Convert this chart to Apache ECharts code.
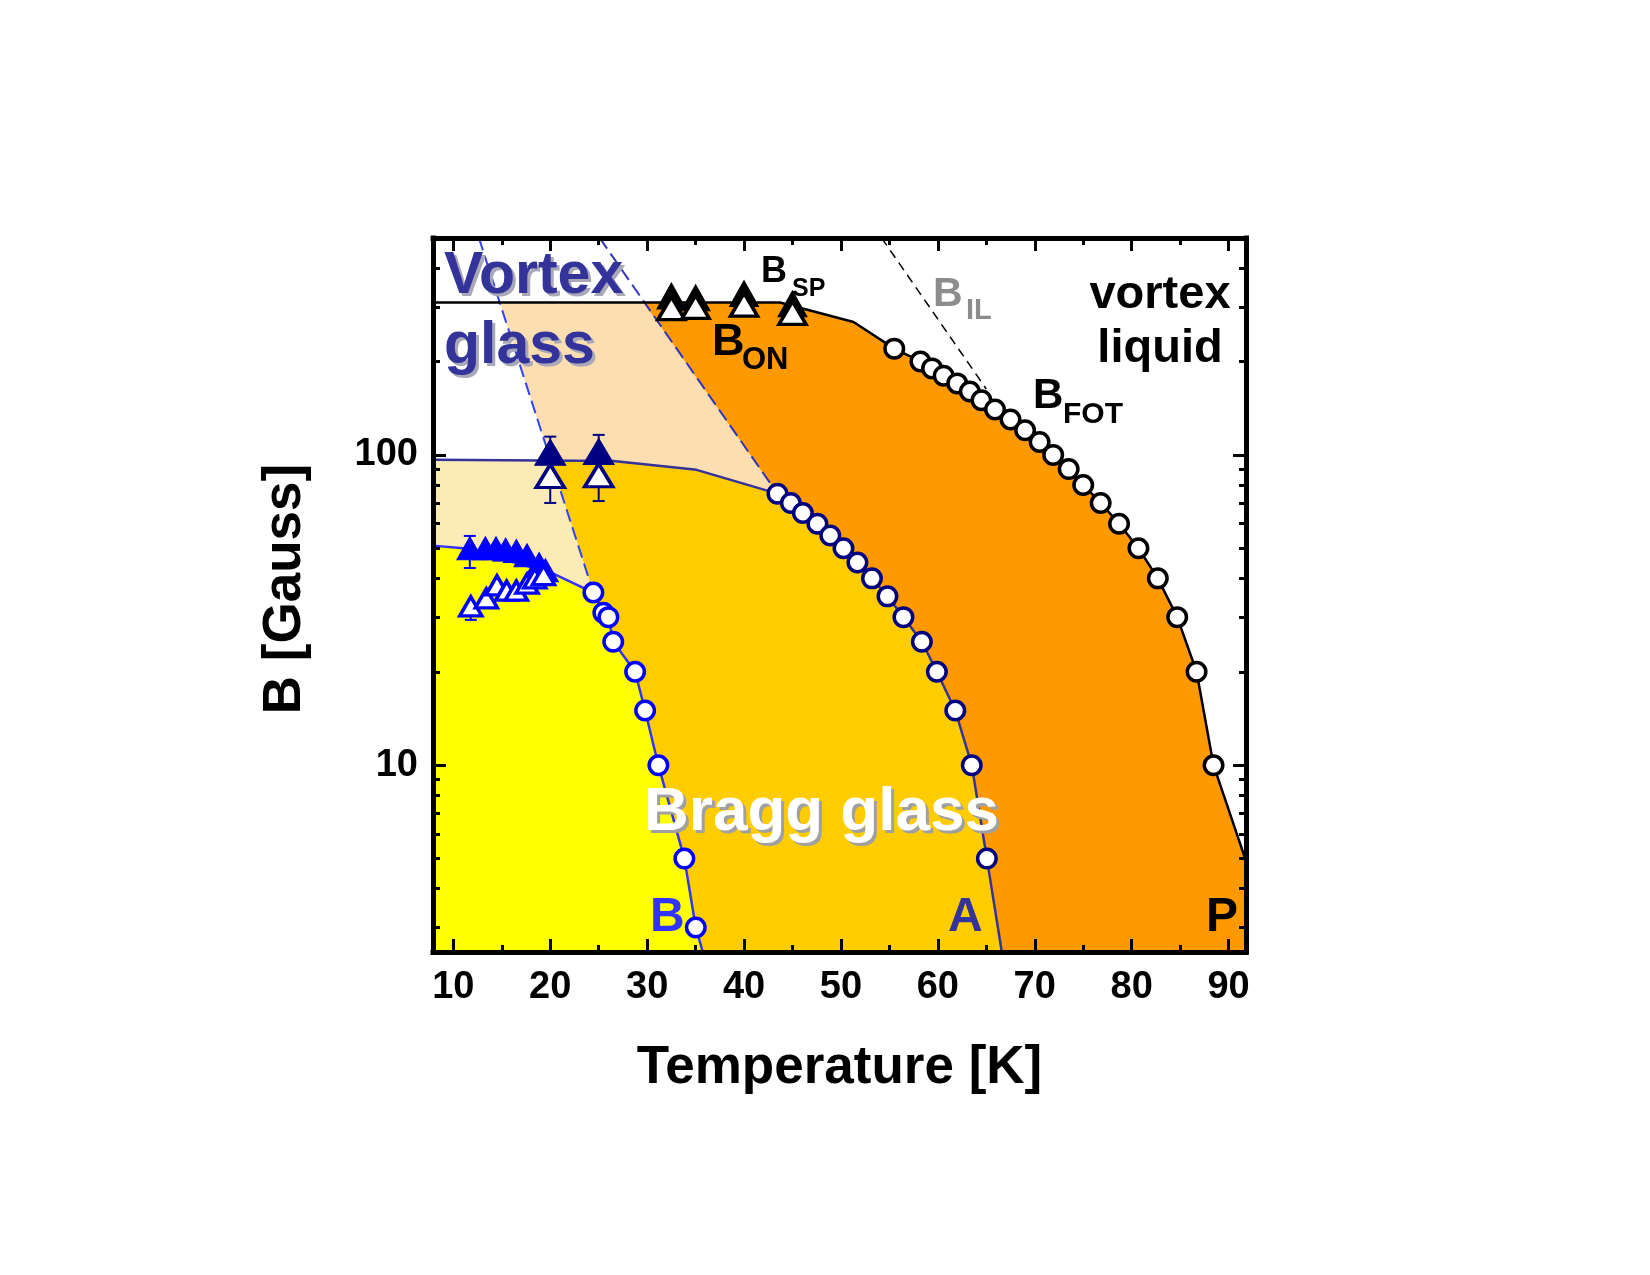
<!DOCTYPE html>
<html><head><meta charset="utf-8">
<script src="https://cdn.jsdelivr.net/npm/echarts@6/dist/echarts.min.js"></script>
<style>html,body{margin:0;padding:0;background:#fff;}#chart{width:1650px;height:1275px;}</style>
</head><body><div id="chart"></div>
<script>
// ---------- axes ----------
const xMin = 7.9, xMax = 91.8;
const yMin = 2.5, yMax = 500;
const xMajorTicks = [10, 20, 30, 40, 50, 60, 70, 80, 90];
const xMinorTicks = [15, 25, 35, 45, 55, 65, 75, 85];
const yLabelTicks = [10, 100];
const yMinorTicks = [3, 4, 5, 6, 7, 8, 9, 20, 30, 40, 50, 60, 70, 80, 90, 200, 300, 400];

// ---------- B_FOT (black circles) and the black boundary ----------
const fotT = [55.5, 58.2, 59.4, 60.6, 62.0, 63.3, 64.5, 65.9, 67.5, 69.0, 70.5, 71.9, 73.5, 75.0, 76.8, 78.7, 80.7, 82.7, 84.7, 86.7, 88.45];
const fotB = [220, 200, 190, 180, 170, 160, 150, 140, 130, 120, 110, 100, 90, 80, 70, 60, 50, 40, 30, 20, 10];
const fotLeadT = [7.9, 43.7, 51.3];
const fotLeadB = [310, 310, 268];
const fotTailT = [91.62, 92.3];
const fotTailB = [5.1, 4.4];

// ---------- line A (navy circles) ----------
const aT = [43.45, 44.83, 46.07, 47.57, 48.9, 50.26, 51.7, 53.2, 54.8, 56.45, 58.35, 59.9, 61.8, 63.5, 65.06];
const aB = [75, 70, 65, 60, 55, 50, 45, 40, 35, 30, 25, 20, 15, 10, 5];
const aLeadT = [7.9, 26.5, 35.1];
const aLeadB = [96.5, 95.5, 89.5];
const aTailT = [66.6];
const aTailB = [2.5];

// ---------- line B (blue circles) ----------
const bT = [24.45, 25.48, 26.0, 26.5, 28.76, 29.79, 31.16, 33.84, 35.02];
const bB = [36, 31, 30, 25, 20, 15, 10, 5, 3];
const bLeadT = [7.9, 11, 20.2];
const bLeadB = [51, 50, 41.6];
const bTailT = [35.74];
const bTailB = [2.5];

// ---------- dashed boundaries ----------
const vgLeftT = [12.64, 24.45];
const vgLeftB = [500, 36];
const vgRightT = [25.1, 43.45];
const vgRightB = [500, 75];
const bilT = [54.2, 65.0];
const bilB = [500, 163];

// ---------- region edges (filled areas) ----------
const peachEdgeT = [7.9, 29.67, 43.45, 43.45];
const peachEdgeB = [310, 310, 75, 2.5];
const whiteEdgeT = [7.9, 12.64, 24.45, 24.45];
const whiteEdgeB = [500, 500, 36, 2.5];
const creamEdgeT = [7.9, 20.03, 24.45, 24.45];
const creamEdgeB = [96.5, 95.8, 36, 2.5];

// ---------- triangles ----------
const spT = [32.5, 35, 40, 45];
const spB = [325, 321, 331, 307];
const onT = [32.5, 35, 40, 45];
const onB = [297, 300, 305, 287];
const navyFillT = [20, 25];
const navyFillB = [102, 102.5];
const navyOpenT = [20, 25];
const navyOpenB = [85.5, 86];
const navyErrT = [20, 25, 20, 25];
const navyErrFrom = [102, 102.5, 85.5, 86];
const navyErrTo = [114.5, 116, 70, 71];
const blueFillT = [11.7, 13.3, 14.4, 15.4, 16.5, 17.6, 18.85, 19.5];
const blueFillB = [50, 50, 50, 49.5, 49, 47.5, 44.5, 42.5];
const blueOpenT = [11.8, 13.4, 14.5, 15.5, 16.5, 17.6, 18.4, 19.3];
const blueOpenB = [32.5, 34.5, 38, 36.5, 36.5, 38.5, 40, 41];
const blueErrT = [11.7, 11.7, 11.8];
const blueErrFrom = [50, 50, 32.5];
const blueErrTo = [54.8, 43.2, 29.4];

// ---------- helpers ----------
const FONT = '"Liberation Sans", Arial, Helvetica, sans-serif';
const pairs = (T, B) => T.map((t, i) => [t, B[i]]);
const join = (...arrs) => [].concat(...arrs);

function areaSeries(T, B, color, z) {
  return {
    type: 'line', data: pairs(T, B), symbol: 'none', showSymbol: false,
    lineStyle: { width: 0, opacity: 0 },
    areaStyle: { color: color, opacity: 1, origin: 'start' },
    silent: true, z: z, animation: false, clip: true, emphasis: { disabled: true }
  };
}
function lineSeries(T, B, color, width, type, z) {
  return {
    type: 'line', data: pairs(T, B), symbol: 'none', showSymbol: false,
    lineStyle: { color: color, width: width, type: type || 'solid' },
    silent: true, z: z, animation: false, clip: true, emphasis: { disabled: true }
  };
}
function scatterSeries(T, B, symbol, size, fill, border, bw, z) {
  return {
    type: 'scatter', data: pairs(T, B), symbol: symbol, symbolSize: size,
    itemStyle: { color: fill, borderColor: border, borderWidth: bw, opacity: 1 },
    silent: true, z: z, animation: false, clip: false, emphasis: { disabled: true }
  };
}
function errSeries(T, from, to, color, z) {
  return {
    type: 'custom', silent: true, z: z, animation: false,
    data: T.map((t, i) => [t, from[i], to[i]]),
    encode: { x: 0, y: [1, 2] },
    renderItem: function (params, api) {
      const p0 = api.coord([api.value(0), api.value(1)]);
      const p1 = api.coord([api.value(0), api.value(2)]);
      return {
        type: 'group', children: [
          { type: 'line', shape: { x1: p0[0], y1: p0[1], x2: p1[0], y2: p1[1] }, style: { stroke: color, lineWidth: 2 } },
          { type: 'line', shape: { x1: p1[0] - 6, y1: p1[1], x2: p1[0] + 6, y2: p1[1] }, style: { stroke: color, lineWidth: 2 } }
        ]
      };
    }
  };
}
function txt(text, x, y, size, color, align) {
  return {
    type: 'text', z: 100, silent: true,
    style: {
      text: text, x: x, y: y, fill: color,
      font: 'bold ' + size + 'px ' + FONT,
      align: align || 'left', verticalAlign: 'middle',
      textAlign: align || 'left', textVerticalAlign: 'middle'
    }
  };
}

const frameLine = { show: true, onZero: false, lineStyle: { color: '#000', width: 5, cap: 'square' } };
const noLine = { show: false, onZero: false };
const majorTick = (vals) => ({ show: true, inside: true, length: 13, lineStyle: { color: '#000', width: 3 }, customValues: vals });
const minorTick = (vals) => ({ show: true, inside: true, length: 7, lineStyle: { color: '#000', width: 3 }, customValues: vals });
const tickFont = { fontSize: 38, fontWeight: 'bold', color: '#000', fontFamily: FONT };

const logMin = Math.log10(yMin), logMax = Math.log10(yMax);
const yMinorLog = yMinorTicks.map(v => Math.log10(v));

const option = {
  animation: false,
  backgroundColor: '#ffffff',
  grid: { left: 433, right: 404, top: 238, bottom: 323, containLabel: false, outerBoundsMode: 'none' },
  xAxis: [
    { type: 'value', position: 'bottom', min: xMin, max: xMax, z: 50,
      axisLine: frameLine, axisTick: majorTick(xMajorTicks), splitLine: { show: false },
      axisLabel: Object.assign({ show: true, margin: 17, customValues: xMajorTicks }, tickFont),
      name: 'Temperature [K]', nameLocation: 'middle', nameGap: 90,
      nameTextStyle: { fontSize: 53, fontWeight: 'bold', color: '#000', fontFamily: FONT } },
    { type: 'value', position: 'bottom', min: xMin, max: xMax, z: 50,
      axisLine: noLine, axisTick: minorTick(xMinorTicks), axisLabel: { show: false }, splitLine: { show: false } },
    { type: 'value', position: 'top', min: xMin, max: xMax, z: 50,
      axisLine: frameLine, axisTick: majorTick(xMajorTicks), axisLabel: { show: false }, splitLine: { show: false } },
    { type: 'value', position: 'top', min: xMin, max: xMax, z: 50,
      axisLine: noLine, axisTick: minorTick(xMinorTicks), axisLabel: { show: false }, splitLine: { show: false } }
  ],
  yAxis: [
    { type: 'log', logBase: 10, position: 'left', min: yMin, max: yMax, z: 50,
      axisLine: frameLine,
      axisTick: { show: true, inside: true, length: 13, lineStyle: { color: '#000', width: 3 } },
      splitLine: { show: false }, minorTick: { show: false },
      axisLabel: Object.assign({ show: true, margin: 15, showMinLabel: true, showMaxLabel: true,
        formatter: function (v) { return yLabelTicks.some(t => Math.abs(t - v) < 1e-6 * t) ? String(Math.round(v)) : ''; } }, tickFont),
      name: 'B [Gauss]', nameLocation: 'middle', nameGap: 121, nameRotate: 90,
      nameTextStyle: { fontSize: 53, fontWeight: 'bold', color: '#000', fontFamily: FONT, padding: [0, 0, 0, 12] } },
    { type: 'value', position: 'left', min: logMin, max: logMax, z: 50,
      axisLine: noLine, axisTick: minorTick(yMinorLog), axisLabel: { show: false }, splitLine: { show: false } },
    { type: 'log', logBase: 10, position: 'right', min: yMin, max: yMax, z: 50,
      axisLine: frameLine,
      axisTick: { show: true, inside: true, length: 13, lineStyle: { color: '#000', width: 3 } },
      axisLabel: { show: false }, splitLine: { show: false } },
    { type: 'value', position: 'right', min: logMin, max: logMax, z: 50,
      axisLine: noLine, axisTick: minorTick(yMinorLog), axisLabel: { show: false }, splitLine: { show: false } }
  ],
  series: [
    // filled phase regions
    areaSeries(join(fotLeadT, fotT, fotTailT), join(fotLeadB, fotB, fotTailB), '#FF9900', 1),
    areaSeries(peachEdgeT, peachEdgeB, '#FCDEB0', 2),
    areaSeries(join(aLeadT, aT, aTailT), join(aLeadB, aB, aTailB), '#FFCC00', 3),
    areaSeries(whiteEdgeT, whiteEdgeB, '#FFFFFF', 4),
    areaSeries(creamEdgeT, creamEdgeB, '#FDEBB5', 5),
    areaSeries(join(bLeadT, bT, bTailT), join(bLeadB, bB, bTailB), '#FFFF00', 6),
    // boundary lines
    lineSeries(vgLeftT, vgLeftB, '#3344EE', 2, [13, 6], 8),
    lineSeries(vgRightT, vgRightB, '#3333BB', 2, [13, 6], 8),
    lineSeries(bilT, bilB, '#000000', 1.5, [9, 6], 8),
    lineSeries(join(fotLeadT, fotT, fotTailT), join(fotLeadB, fotB, fotTailB), '#000000', 2.5, 'solid', 9),
    lineSeries(join(aLeadT, aT, aTailT), join(aLeadB, aB, aTailB), '#333399', 2.5, 'solid', 9),
    lineSeries(join(bLeadT, bT, bTailT), join(bLeadB, bB, bTailB), '#3333FF', 2.5, 'solid', 9),
    // error bars
    errSeries(navyErrT, navyErrFrom, navyErrTo, '#000080', 15),
    errSeries(blueErrT, blueErrFrom, blueErrTo, '#0000FF', 15),
    // markers
    scatterSeries(fotT, fotB, 'circle', 18.5, '#FFFFFF', '#000000', 3.5, 20),
    scatterSeries(aT, aB, 'circle', 18.5, '#FFFFFF', '#000080', 3.5, 20),
    scatterSeries(bT, bB, 'circle', 18.5, '#FFFFFF', '#0000FF', 3.5, 20),
    scatterSeries(spT, spB, 'triangle', [29, 26], '#000000', '#000000', 1, 21),
    scatterSeries(onT, onB, 'triangle', [27, 23], '#FFFFFF', '#000000', 3.5, 22),
    scatterSeries(navyFillT, navyFillB, 'triangle', [31, 26], '#000080', '#000080', 1, 21),
    scatterSeries(navyOpenT, navyOpenB, 'triangle', [28, 23], '#FFFFFF', '#000080', 3.5, 22),
    scatterSeries(blueFillT, blueFillB, 'triangle', [26, 23], '#0000FF', '#0000FF', 1, 21),
    scatterSeries(blueOpenT, blueOpenB, 'triangle', [22, 19], '#FFFFFF', '#0000FF', 3.5, 22)
  ],
  graphic: [
    txt('Vortex', 447, 280, 59, '#A8A8B8'),
    txt('Vortex', 444, 277, 59, '#333399'),
    txt('glass', 447, 350, 59, '#A8A8B8'),
    txt('glass', 444, 347, 59, '#333399'),
    txt('B', 761, 272, 36, '#000'),
    txt('SP', 792, 289, 25, '#000'),
    txt('B', 712, 343, 45, '#000'),
    txt('ON', 742, 360, 31, '#000'),
    txt('B', 933, 295, 41, '#8C8C8C'),
    txt('IL', 966, 311, 29, '#8C8C8C'),
    txt('vortex', 1160, 295, 47, '#000', 'center'),
    txt('liquid', 1160, 349, 47, '#000', 'center'),
    txt('B', 1033, 396, 42, '#000'),
    txt('FOT', 1063, 415, 30, '#000'),
    txt('Bragg glass', 647, 816, 62, '#A0A0A0'),
    txt('Bragg glass', 644, 813, 62, '#FFFFFF'),
    txt('B', 650, 918, 48, '#3333FF'),
    txt('A', 948, 918, 48, '#333399'),
    txt('P', 1206, 918, 48, '#000000')
  ]
};

const chart = echarts.init(document.getElementById('chart'), null, { renderer: 'canvas', width: 1650, height: 1275 });
chart.setOption(option);
</script>
</body></html>
